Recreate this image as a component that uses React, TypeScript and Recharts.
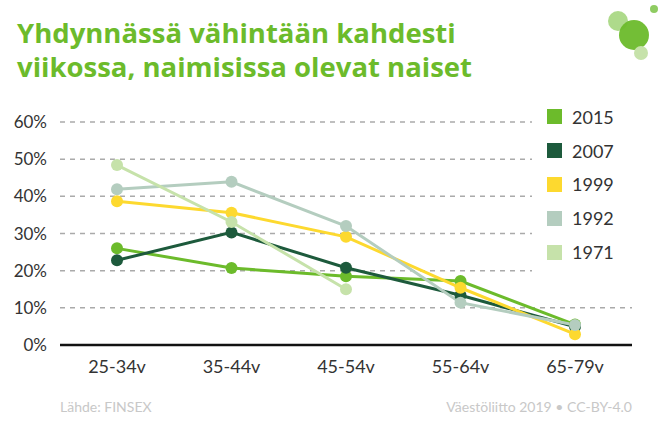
import { LineChart, Line, XAxis, YAxis, CartesianGrid } from 'recharts'

const ageGroups = ['25-34v', '35-44v', '45-54v', '55-64v', '65-79v']
const s2015 = [26, 20.7, 18.5, 17.2, 5.5]
const s2007 = [22.8, 30.3, 20.8, 13.4, 4.9]
const s1999 = [38.7, 35.6, 29.1, 15.4, 2.9]
const s1992 = [41.9, 43.9, 32, 11.4, 5.4]
const s1971 = [48.4, 33.1, 15, null, null]
const yTicks = [0, 10, 20, 30, 40, 50, 60]

const series = [
  { key: 'y2015', name: '2015', color: '#6cbb2b', values: s2015 },
  { key: 'y2007', name: '2007', color: '#1d5a3c', values: s2007 },
  { key: 'y1999', name: '1999', color: '#fdd92f', values: s1999 },
  { key: 'y1992', name: '1992', color: '#b4cdbf', values: s1992 },
  { key: 'y1971', name: '1971', color: '#c6e2aa', values: s1971 },
]

const data = ageGroups.map((age, i) => {
  const row: Record<string, string | number | null> = { age }
  series.forEach((s) => {
    row[s.key] = s.values[i]
  })
  return row
})

const font = 'Lato, "Open Sans", sans-serif'

function LegendBox() {
  return (
    <div style={{ position: 'absolute', left: 532, top: 100, background: '#fff', width: 130, height: 180 }}>
      {series.map((s) => (
        <div key={s.key} style={{ display: 'flex', alignItems: 'center', height: 33.8 }}>
          <div style={{ width: 15, height: 15, background: s.color, marginLeft: 15, marginRight: 10 }} />
          <span style={{ fontSize: 18, color: '#333', fontFamily: font }}>{s.name}</span>
        </div>
      ))}
    </div>
  )
}

const titleStyle = {
  color: '#6cbb2b',
  fontSize: 27.5,
  fontWeight: 700,
  lineHeight: '34px',
  height: 34,
  whiteSpace: 'nowrap' as const,
  fontFamily: '"Open Sans", sans-serif',
}

export default function App() {
  return (
    <div style={{ position: 'absolute', left: 0, top: 0, width: 662, height: 440, background: '#fff', fontFamily: font }}>
      <div style={{ position: 'absolute', left: 17, top: 16 }}>
        <div style={titleStyle}>Yhdynnässä vähintään kahdesti</div>
        <div style={titleStyle}>viikossa, naimisissa olevat naiset</div>
      </div>
      <svg style={{ position: 'absolute', left: 600, top: 0 }} width={62} height={70}>
        <circle cx={18} cy={21} r={10} fill="#6cbb2b" opacity={0.55} />
        <circle cx={34} cy={35} r={15} fill="#6cbb2b" opacity={0.95} />
        <circle cx={41} cy={53} r={7} fill="#c6e2aa" />
        <circle cx={54} cy={9} r={4} fill="#8fcc62" />
      </svg>
      <LineChart width={662} height={440} data={data} margin={{ top: 122, right: 30, bottom: 65, left: 0 }}>
        <CartesianGrid vertical={false} stroke="#aaa" strokeDasharray="5 5" strokeWidth={1.5} />
        <XAxis
          dataKey="age"
          height={30}
          padding={{ left: 57, right: 57 }}
          axisLine={{ stroke: '#111', strokeWidth: 2.5 }}
          tickLine={false}
          tick={{ fill: '#333', fontSize: 18, fontFamily: font }}
          tickMargin={9}
          interval={0}
        />
        <YAxis
          width={60}
          domain={[0, 60]}
          ticks={yTicks}
          tickFormatter={(v) => `${v}%`}
          axisLine={false}
          tickLine={false}
          tickSize={0}
          tickMargin={13}
          tick={{ fill: '#333', fontSize: 17, fontFamily: font }}
        />
        {series.map((s) => (
          <Line
            key={s.key}
            dataKey={s.key}
            name={s.name}
            stroke={s.color}
            strokeWidth={3}
            dot={{ r: 6, fill: s.color, stroke: 'none' }}
            activeDot={false}
            isAnimationActive={false}
          />
        ))}
      </LineChart>
      <LegendBox />
      <div style={{ position: 'absolute', left: 60, top: 398, fontSize: 14, color: '#c8c8c8' }}>Lähde: FINSEX</div>
      <div style={{ position: 'absolute', right: 30, top: 398, fontSize: 14, color: '#c8c8c8' }}>Väestöliitto 2019 • CC-BY-4.0</div>
    </div>
  )
}
